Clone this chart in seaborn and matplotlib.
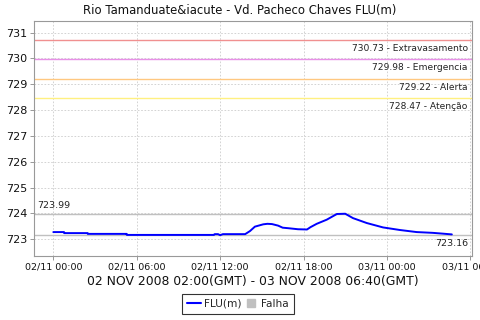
import matplotlib
matplotlib.use("Agg")
import matplotlib.pyplot as plt
import matplotlib.dates as mdates
from matplotlib.lines import Line2D
import seaborn as sns
import pandas as pd
import numpy as np

# Data (local time hours after 02/11/2008 00:00)
hours = [0.0, 0.77, 0.78, 2.47, 2.48, 5.28, 5.29, 11.56, 11.6, 11.85, 12.0, 12.2,
         13.8, 14.15, 14.5, 15.1, 15.4, 15.73, 16.17, 16.5, 16.9, 17.6, 18.25,
         18.5, 18.95, 19.67, 20.4, 21.0, 21.56, 22.55, 23.72, 24.94, 26.14,
         27.3, 28.0, 28.67]
levels = [723.28, 723.28, 723.24, 723.24, 723.21, 723.21, 723.17, 723.17, 723.20,
          723.20, 723.16, 723.20, 723.20, 723.32, 723.49, 723.58, 723.60, 723.59,
          723.53, 723.45, 723.43, 723.39, 723.38, 723.47, 723.60, 723.76, 723.98,
          723.99, 723.82, 723.63, 723.46, 723.36, 723.28, 723.25, 723.22, 723.19]

thr_values = [730.73, 729.98, 729.22, 728.47]
thr_names = ["Extravasamento", "Emergencia", "Alerta", "Atenção"]
thr_colors = ["#f09090", "#e890e8", "#ffc880", "#fff080"]

max_val = 723.99
min_val = 723.16

title = "Rio Tamanduate&iacute - Vd. Pacheco Chaves FLU(m)"
xlabel = "02 NOV 2008 02:00(GMT) - 03 NOV 2008 06:40(GMT)"

start = pd.Timestamp("2008-11-02 00:00")
df = pd.DataFrame({"time": [start + pd.Timedelta(hours=h) for h in hours],
                   "FLU(m)": levels})

sns.set_theme(style="white")
plt.rcParams["font.family"] = ["DejaVu Sans"]

fig = plt.figure(figsize=(4.8, 3.2), dpi=100)
ax = fig.add_axes([34/480, 1-256/320, (472-34)/480, (256-21)/320])

# grid
ax.grid(True, color="#cccccc", linestyle=(0, (2, 2)), linewidth=0.6)
ax.set_axisbelow(True)

# threshold lines
for v, n, c in zip(thr_values, thr_names, thr_colors):
    ax.axhline(v, color=c, linewidth=1.0, zorder=2)
    ax.annotate(f"{v:.2f} - {n}", xy=(1, v), xycoords=("axes fraction", "data"),
                xytext=(-3, -3), textcoords="offset points", ha="right", va="top",
                fontsize=6.6, color="#222222")

ax.axhline(max_val, color="#c0c0c0", linewidth=1.0, zorder=2)
ax.axhline(min_val, color="#c0c0c0", linewidth=1.0, zorder=2)
ax.annotate(f"{max_val:.2f}", xy=(0, max_val), xycoords=("axes fraction", "data"),
            xytext=(2, 3), textcoords="offset points", ha="left", va="bottom",
            fontsize=6.8, color="#222222")
ax.annotate(f"{min_val:.2f}", xy=(1, min_val), xycoords=("axes fraction", "data"),
            xytext=(-3, -3), textcoords="offset points", ha="right", va="top",
            fontsize=6.8, color="#222222")

sns.lineplot(data=df, x="time", y="FLU(m)", ax=ax, color="#0000ff", linewidth=1.4,
             zorder=3)

ax.set_xlim(start + pd.Timedelta(hours=-1.39), start + pd.Timedelta(hours=30.12))
ax.set_ylim(722.354, 731.45)
ax.set_yticks(np.arange(723, 732, 1))
ax.xaxis.set_major_locator(mdates.HourLocator(byhour=[0, 6, 12, 18]))
ax.xaxis.set_major_formatter(mdates.DateFormatter("%d/%m %H:%M"))

ax.set_xlabel(xlabel, fontsize=8.9, labelpad=2, color="#111111")
ax.set_ylabel("")
ax.set_title(title, fontsize=8.4, pad=5, color="#111111", x=(240-34)/438)

ax.tick_params(axis="x", which="major", labelsize=6.8, length=3, width=0.6,
               color="#888888", labelcolor="#111111", pad=2, bottom=True)
ax.tick_params(axis="y", which="major", labelsize=8, length=3, width=0.6,
               color="#888888", labelcolor="#111111", pad=2, left=True)
for s in ax.spines.values():
    s.set_color("#999999")
    s.set_linewidth(0.8)

handles = [Line2D([0], [0], color="#0000ff", linewidth=1.5),
           Line2D([0], [0], marker="s", linestyle="none", markersize=6,
                  markerfacecolor="#c0c0c0", markeredgecolor="#c0c0c0")]
leg = fig.legend(handles, ["FLU(m)", "Falha"], loc="center",
                 bbox_to_anchor=(238/480, 1-304/320), ncol=2, fontsize=7.6,
                 frameon=True, fancybox=False, handlelength=1.3, handletextpad=0.3,
                 columnspacing=0.3, borderpad=0.5, borderaxespad=0)
leg.get_frame().set_edgecolor("black")
leg.get_frame().set_linewidth(0.8)

fig.savefig("out.png", dpi=100)
